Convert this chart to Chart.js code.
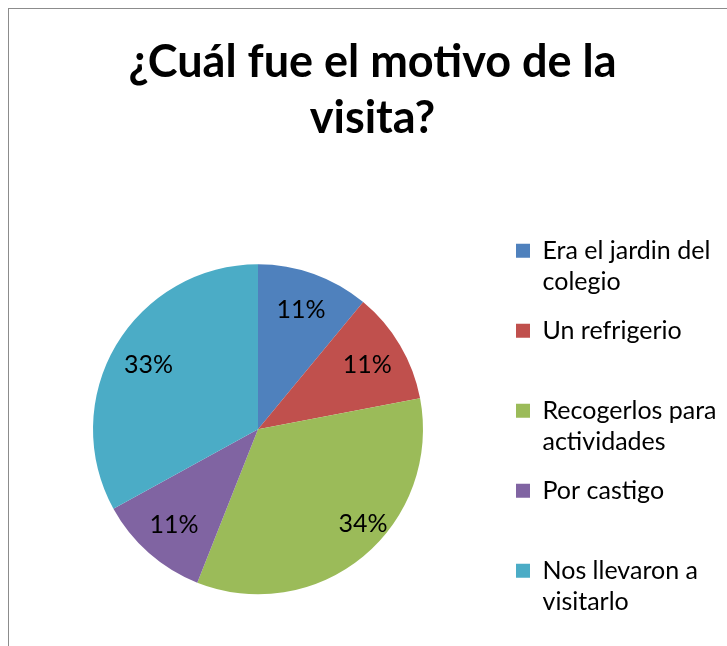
<!DOCTYPE html>
<html>
<head>
<meta charset="utf-8">
<script src="https://cdn.jsdelivr.net/npm/chart.js@4.4.0/dist/chart.umd.min.js"></script>
<style>
html, body { margin: 0; padding: 0; background: #fff; }
#wrap { width: 727px; height: 646px; }
</style>
</head>
<body>
<div id="wrap"><canvas id="canvas1" width="727" height="646"></canvas></div>
<script>
"use strict";

let chart1 = null; // js var for chart

// data
let titleLines = ["¿Cuál fue el motivo de la", "visita?"];
let categories = [
    ["Era el jardin del", "colegio"],
    ["Un refrigerio", ""],
    ["Recogerlos para", "actividades"],
    ["Por castigo", ""],
    ["Nos llevaron a", "visitarlo"],
];
let values = [11, 11, 34, 11, 33];
let colors = ["#4F81BD", "#C0504D", "#9BBB59", "#8064A2", "#4BACC6"];

// white page + grey chart frame (top/left edges show)
let framePlugin = {
    id: "frame",
    beforeInit(chart) {
        // fixed legend column width
        let fit = chart.legend.fit;
        chart.legend.fit = function () {
            fit.call(this);
            this.width = 229;
        };
    },
    beforeDraw(chart) {
        let ctx = chart.ctx;
        ctx.save();
        ctx.fillStyle = "#fff";
        ctx.fillRect(0, 0, chart.width, chart.height);
        ctx.strokeStyle = "#8c8c8c";
        ctx.lineWidth = 1;
        ctx.strokeRect(8.5, 8.5, chart.width + 20, chart.height + 20);
        ctx.restore();
    }
};

// percent labels inside slices
let nudge = [[0, 0], [0, 0], [24, -3], [0, 0], [0, 0]]; // excel best-fit shift
let pctPlugin = {
    id: "pct",
    afterDatasetsDraw(chart) {
        let ctx = chart.ctx;
        let meta = chart.getDatasetMeta(0);
        let total = values.reduce((a, b) => a + b, 0);
        ctx.save();
        ctx.font = "25px Lato";
        ctx.fillStyle = "#000";
        ctx.textAlign = "center";
        ctx.textBaseline = "middle";
        meta.data.forEach((arc, i) => {
            let p = arc.getProps(["x", "y", "startAngle", "endAngle", "outerRadius"], true);
            let mid = (p.startAngle + p.endAngle) / 2;
            let r = p.outerRadius * 0.77;
            let txt = Math.round(values[i] / total * 100) + "%";
            ctx.fillText(txt, p.x + Math.cos(mid) * r + nudge[i][0], p.y + Math.sin(mid) * r + nudge[i][1]);
        });
        ctx.restore();
    }
};

let canvas1 = document.querySelector("#canvas1");

let opts = {
    type: "pie",
    data: {
        labels: categories,
        datasets: [{
            data: values,
            backgroundColor: colors,
            borderWidth: 0,
            radius: 165,
        }],
    },
    options: {
        responsive: false,
        animation: false,
        devicePixelRatio: 1,
        layout: { padding: { left: 18, right: 0, top: 0, bottom: 0 } },
        plugins: {
            title: {
                display: true,
                text: titleLines,
                color: "#000",
                font: { family: "Lato", size: 45, weight: "bold", lineHeight: 1.25 },
                padding: { top: 34, bottom: 66 },
            },
            legend: {
                position: "right",
                align: "center",
                fullSize: false,
                labels: {
                    boxWidth: 14,
                    boxHeight: 14,
                    padding: 18,
                    color: "#000",
                    font: { family: "Lato", size: 25, lineHeight: 1.24 },
                },
            },
            tooltip: { enabled: false },
        },
    },
    plugins: [framePlugin, pctPlugin],
};

chart1 = new Chart(canvas1, opts);
</script>
</body>
</html>
